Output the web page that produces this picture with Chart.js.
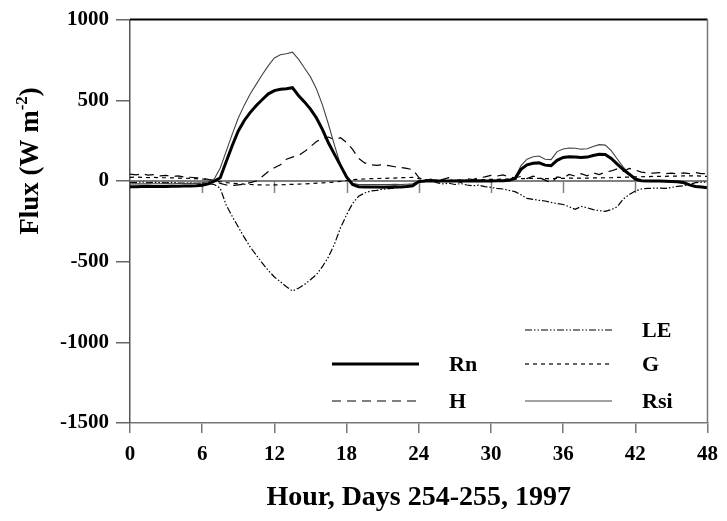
<!DOCTYPE html>
<html>
<head>
<meta charset="utf-8">
<title>Flux</title>
<style>
  body { margin: 0; background: #fff; }
</style>
</head>
<body>
<canvas id="myChart" width="727" height="521"></canvas>
<script src="https://cdn.jsdelivr.net/npm/chart.js@4.4.1/dist/chart.umd.min.js"></script>
<script>
// half-hour readings, days 254-255
var hours = [0,0.5,1,1.5,2,2.5,3,3.5,4,4.5,5,5.5,6,6.5,7,7.5,8,8.5,9,9.5,10,10.5,11,11.5,12,12.5,13,13.5,14,14.5,15,15.5,16,16.5,17,17.5,18,18.5,19,19.5,20,20.5,21,21.5,22,22.5,23,23.5,
  24,24.5,25,25.5,26,26.5,27,27.5,28,28.5,29,29.5,30,30.5,31,31.5,32,32.5,33,33.5,34,34.5,35,35.5,36,36.5,37,37.5,38,38.5,39,39.5,40,40.5,41,41.5,42,42.5,43,43.5,44,44.5,45,45.5,46,46.5,47,47.5,48];

var rn = [-36,-36,-35,-35,-35,-34,-34,-33,-33,-32,-31,-30,-27,-18,
  -2,20,120,220,310,375,425,468,505,540,560,568,572,578,530,490,445,390,318,235,165,95,25,-22,-36,-38,-38,-37,-39,-37,-36,-37,-34,-30,
  -4,0,1,0,-1,0,0,1,0,0,1,0,0,1,2,4,
  15,72,100,110,112,98,95,128,146,150,149,145,148,158,165,164,140,104,70,42,12,2,0,0,-1,-2,-3,-5,-10,-24,-34,-38,-42];

var rsi = [-18,-18,-17,-18,-17,-17,-16,-17,-16,-16,-15,-15,-12,-5,
  12,80,185,290,390,470,540,600,660,715,762,782,788,798,755,700,645,570,470,350,220,100,18,-14,-22,-23,-22,-22,-23,-22,-21,-22,-20,-18,
  0,2,2,2,1,2,2,3,2,2,3,2,2,3,4,7,
  22,95,135,150,155,135,132,182,198,204,203,197,200,214,225,222,188,136,86,45,12,3,2,2,1,0,-3,-8,-15,-25,-32,-35,-38];

var h = [42,38,44,36,39,31,35,28,31,25,23,20,17,10,
  0,-15,-25,-28,-24,-20,-10,0,28,58,82,100,135,148,158,182,212,245,262,272,256,268,238,196,140,112,100,97,101,95,88,84,78,70,
  22,0,12,-5,10,20,5,-10,15,8,20,25,35,30,38,25,
  20,28,15,30,22,5,-12,25,18,40,30,45,32,50,40,55,62,75,60,78,68,55,50,48,52,45,48,44,50,45,52,46,45];

var g = [22,24,22,21,22,20,20,19,18,17,16,14,12,8,
  2,-5,-10,-14,-17,-20,-22,-24,-25,-25,-24,-24,-22,-21,-20,-18,-16,-14,-12,-10,-7,-3,3,8,10,12,14,15,16,17,18,20,21,22,
  15,8,6,5,5,4,5,6,6,7,8,8,10,10,12,12,
  13,14,15,16,16,15,15,16,16,17,18,18,18,19,19,20,20,22,23,24,25,26,27,28,28,29,30,30,31,31,32,30,28];

var le = [-8,-10,-6,-12,-8,-10,-12,-9,-12,-14,-12,-15,-14,-16,
  -22,-45,-150,-220,-285,-350,-410,-460,-510,-555,-595,-625,-655,-682,-665,-642,-612,-580,-530,-470,-390,-290,-210,-140,-95,-75,-62,-58,-52,-48,-44,-40,-36,-30,
  -6,-4,6,-10,-18,-14,-22,-16,-25,-30,-26,-35,-40,-46,-50,-58,
  -66,-86,-108,-114,-120,-124,-133,-140,-146,-160,-176,-158,-166,-178,-184,-188,-178,-160,-112,-84,-62,-50,-46,-45,-44,-46,-40,-34,-30,-22,-10,-8,-6];

var xTicks = [0, 6, 12, 18, 24, 30, 36, 42, 48];
var yTicks = [-1500, -1000, -500, 0, 500, 1000];

var FONT = '"Liberation Serif", "Times New Roman", serif';

function pts(vals) {
  return hours.map(function (x, i) { return { x: x, y: vals[i] }; });
}

// zero line with tick marks, frame, y title, legend
var extras = {
  id: 'extras',
  beforeDatasetsDraw: function (chart) {
    var ctx = chart.ctx, a = chart.chartArea;
    var xs = chart.scales.x, y0 = chart.scales.y.getPixelForValue(0);
    ctx.save();
    ctx.strokeStyle = '#808080';
    ctx.lineWidth = 2;
    ctx.beginPath();
    ctx.moveTo(a.left, y0);
    ctx.lineTo(a.right, y0);
    ctx.stroke();
    ctx.lineWidth = 1.5;
    xTicks.forEach(function (t) {
      if (t === 0 || t === 48) return;
      var px = Math.round(xs.getPixelForValue(t)) + 0.5;
      ctx.beginPath();
      ctx.moveTo(px, y0);
      ctx.lineTo(px, y0 + 12);
      ctx.stroke();
    });
    ctx.restore();
  },
  afterDraw: function (chart) {
    var ctx = chart.ctx, a = chart.chartArea;
    ctx.save();
    // frame top and right
    ctx.strokeStyle = '#000';
    ctx.lineWidth = 2;
    ctx.beginPath();
    ctx.moveTo(a.left, a.top);
    ctx.lineTo(a.right, a.top);
    ctx.stroke();
    ctx.strokeStyle = '#777';
    ctx.lineWidth = 1.5;
    ctx.beginPath();
    ctx.moveTo(a.right, a.top);
    ctx.lineTo(a.right, a.bottom);
    ctx.stroke();

    // y title with superscript
    ctx.fillStyle = '#000';
    ctx.translate(38, 161);
    ctx.rotate(-Math.PI / 2);
    ctx.textBaseline = 'alphabetic';
    ctx.font = 'bold 27px ' + FONT;
    var p1 = 'Flux (W m', sup = '-2', p2 = ')';
    var w1 = ctx.measureText(p1).width;
    ctx.font = 'bold 17px ' + FONT;
    var ws = ctx.measureText(sup).width;
    ctx.font = 'bold 27px ' + FONT;
    var w2 = ctx.measureText(p2).width;
    var x0 = -(w1 + ws + w2) / 2;
    ctx.fillText(p1, x0, 0);
    ctx.font = 'bold 17px ' + FONT;
    ctx.fillText(sup, x0 + w1, -11);
    ctx.font = 'bold 27px ' + FONT;
    ctx.fillText(p2, x0 + w1 + ws, 0);
    ctx.restore();

    // legend
    var slots = { LE: [525, 330], Rn: [332, 364], G: [525, 364], H: [332, 401], Rsi: [525, 401] };
    ctx.save();
    ctx.font = 'bold 22px ' + FONT;
    ctx.textBaseline = 'middle';
    ctx.fillStyle = '#000';
    chart.data.datasets.forEach(function (ds) {
      var s = slots[ds.label];
      if (!s) return;
      ctx.strokeStyle = ds.borderColor;
      ctx.lineWidth = ds.borderWidth;
      ctx.setLineDash(ds.borderDash || []);
      ctx.beginPath();
      ctx.moveTo(s[0], s[1]);
      ctx.lineTo(s[0] + 87, s[1]);
      ctx.stroke();
      ctx.setLineDash([]);
      ctx.fillText(ds.label, s[0] + 117, s[1] + 1);
    });
    ctx.restore();
  }
};

var ctx = document.getElementById('myChart').getContext('2d');
var chart = new Chart(ctx, {
  type: 'line',
  data: {
    datasets: [
      { label: 'Rn', data: pts(rn), borderColor: '#000', borderWidth: 3, order: 1 },
      { label: 'Rsi', data: pts(rsi), borderColor: '#444', borderWidth: 1.1, order: 2 },
      { label: 'H', data: pts(h), borderColor: '#000', borderWidth: 1.2, borderDash: [9, 6], order: 3 },
      { label: 'G', data: pts(g), borderColor: '#000', borderWidth: 1.2, borderDash: [4, 4], order: 4 },
      { label: 'LE', data: pts(le), borderColor: '#000', borderWidth: 1.2, borderDash: [7, 2, 1.5, 2, 1.5, 2], order: 5 }
    ]
  },
  options: {
    responsive: false,
    animation: false,
    devicePixelRatio: 1,
    layout: { padding: { top: 18, right: 15, left: 0, bottom: 0 } },
    elements: { point: { radius: 0 }, line: { tension: 0, fill: false } },
    plugins: { legend: { display: false }, tooltip: { enabled: false } },
    scales: {
      x: {
        type: 'linear', min: 0, max: 48,
        afterBuildTicks: function (s) { s.ticks = xTicks.map(function (v) { return { value: v }; }); },
        afterFit: function (s) { s.height = 98; },
        ticks: { color: '#000', font: { family: FONT, size: 21, weight: 'bold' }, padding: 9, maxRotation: 0,
          callback: function (v) { return String(v); } },
        grid: { drawOnChartArea: false, tickLength: 10, color: '#777', lineWidth: 1.5 },
        border: { color: '#777', width: 1.5 },
        title: { display: true, text: 'Hour, Days 254-255, 1997', color: '#000',
          font: { family: FONT, size: 28, weight: 'bold' }, padding: { top: 0, bottom: 6 } }
      },
      y: {
        min: -1500, max: 1000,
        afterBuildTicks: function (s) { s.ticks = yTicks.map(function (v) { return { value: v }; }); },
        afterFit: function (s) { s.width = 130; },
        ticks: { color: '#000', font: { family: FONT, size: 21, weight: 'bold' }, padding: 7,
          callback: function (v) { return String(v); } },
        grid: { drawOnChartArea: false, tickLength: 14, color: '#666', lineWidth: 1.5 },
        border: { color: '#555', width: 1.5 }
      }
    }
  },
  plugins: [extras]
});
</script>
</body>
</html>
